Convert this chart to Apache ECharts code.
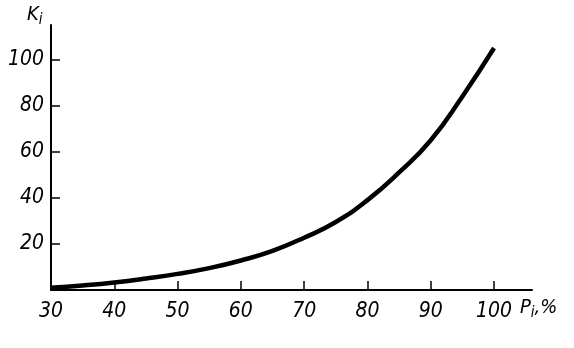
<!DOCTYPE html>
<html><head><meta charset="utf-8">
<script src="https://cdn.jsdelivr.net/npm/echarts@6/dist/echarts.min.js"></script>
<style>html,body{margin:0;padding:0;background:#fff}#c{width:574px;height:348px}</style>
</head><body><div id="c"></div>
<script>
const pValues = [30, 35, 40, 45, 50, 55, 60, 65, 70, 75, 80, 85, 90, 95, 100];
const kValues = [1, 2, 3.3, 5, 7, 9.5, 12.8, 17, 22.7, 29.5, 39, 51, 65, 84, 105];
const xTicks = [30, 40, 50, 60, 70, 80, 90, 100];
const yTicks = [20, 40, 60, 80, 100];

const font = '"DejaVu Sans Condensed", "DejaVu Sans", sans-serif';
const chart = echarts.init(document.getElementById('c'), null, {renderer: 'canvas'});
chart.setOption({
  animation: false,
  backgroundColor: '#fff',
  grid: {left: 51, right: 42, top: 25, bottom: 58},
  xAxis: {
    type: 'value', min: 30, max: 106, interval: 10,
    splitLine: {show: false},
    axisLine: {lineStyle: {color: '#000', width: 2}},
    axisTick: {inside: true, length: 9, lineStyle: {color: '#000', width: 1.5}, customValues: xTicks},
    axisLabel: {customValues: xTicks, color: '#000', fontFamily: font, fontStyle: 'italic', fontSize: 21, margin: 11}
  },
  yAxis: {
    type: 'value', min: 0, max: 115, interval: 20,
    splitLine: {show: false},
    axisLine: {lineStyle: {color: '#000', width: 2}},
    axisTick: {inside: true, length: 9, lineStyle: {color: '#000', width: 1.5}, customValues: yTicks},
    axisLabel: {customValues: yTicks, color: '#000', fontFamily: font, fontStyle: 'italic', fontSize: 21, margin: 7}
  },
  graphic: [
    {type: 'text', left: 27, top: 5, style: {
      text: '{a|K}{b|i}', rich: {
        a: {fontFamily: font, fontStyle: 'italic', fontSize: 20, fill: '#000'},
        b: {fontFamily: font, fontStyle: 'italic', fontSize: 15, fill: '#000', padding: [11, 0, 0, 0]}
      }}},
    {type: 'text', left: 520, top: 298, style: {
      text: '{a|P}{b|i}{a|,%}', rich: {
        a: {fontFamily: font, fontStyle: 'italic', fontSize: 20, fill: '#000'},
        b: {fontFamily: font, fontStyle: 'italic', fontSize: 15, fill: '#000', padding: [11, 0, 0, 0]}
      }}}
  ],
  series: [{
    type: 'line', smooth: 0.5, showSymbol: false,
    data: pValues.map((p, i) => [p, kValues[i]]),
    lineStyle: {color: '#000', width: 4.5}
  }]
});
</script></body></html>
